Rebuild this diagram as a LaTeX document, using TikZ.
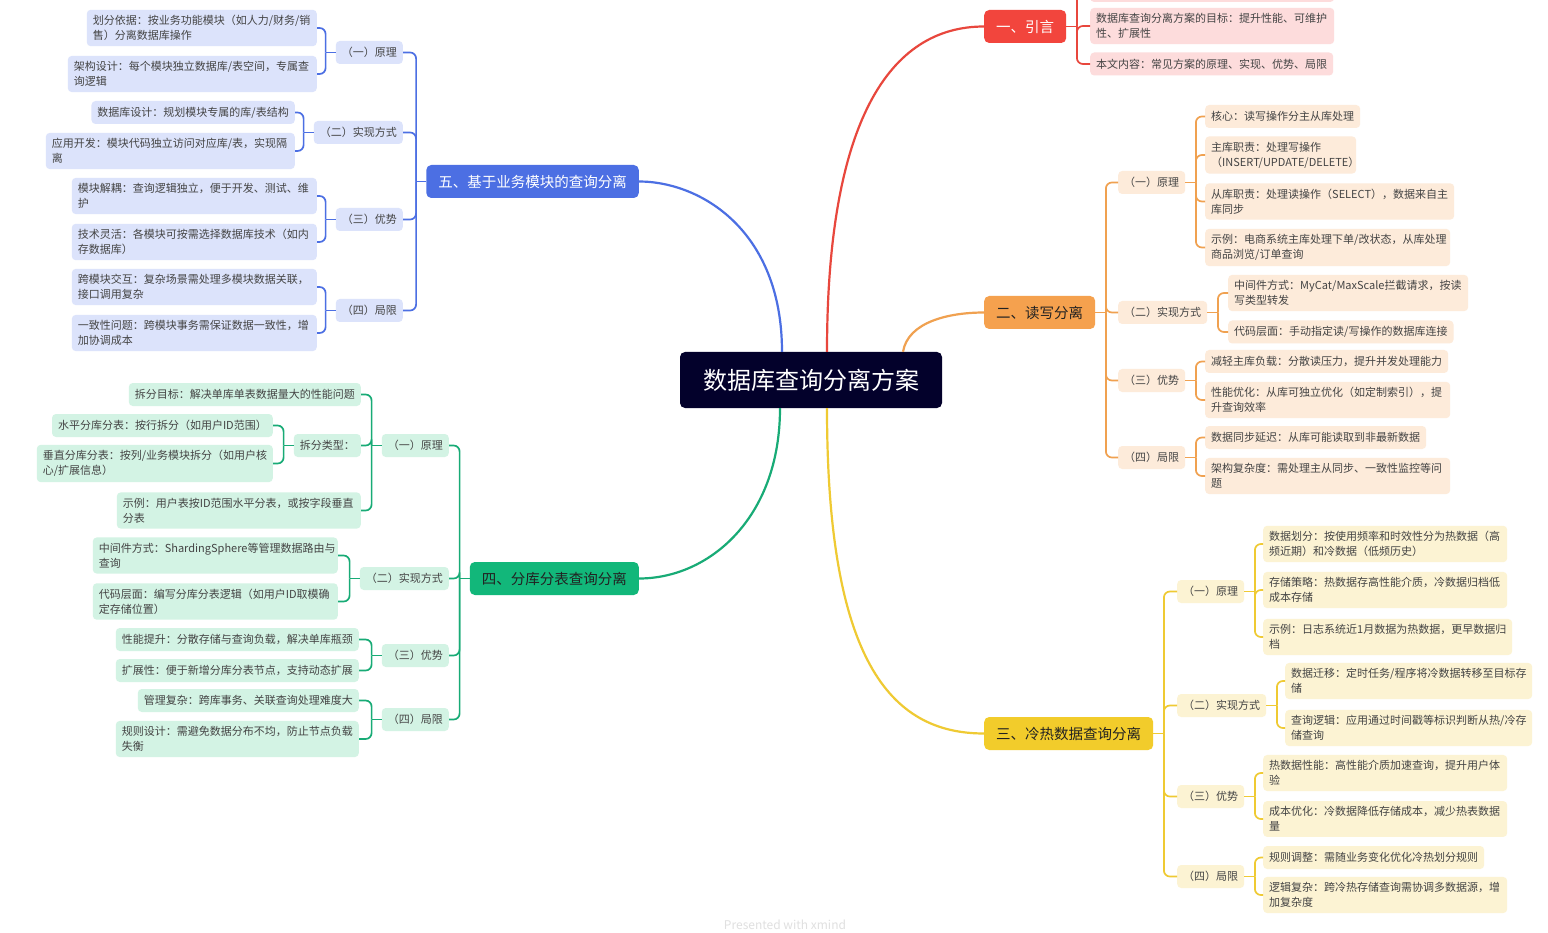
\documentclass[tikz,border=0pt]{standalone}
\usepackage{fontspec}
\setmainfont{Noto Sans CJK SC}
\newcommand\lfnt{\fontsize{11}{15}\selectfont}
\newcommand\mfnt{\fontsize{14.5}{18}\selectfont}
\newcommand\cfnt{\fontsize{24}{28}\selectfont}
\definecolor{cfill}{HTML}{03012B}
\definecolor{redmain}{HTML}{F2453D}
\definecolor{redfill}{HTML}{FDDCDC}
\definecolor{redline}{HTML}{E8473D}
\definecolor{orgmain}{HTML}{F5A14E}
\definecolor{orgfill}{HTML}{FDEBDA}
\definecolor{orgline}{HTML}{F0A150}
\definecolor{yelmain}{HTML}{F2CC2B}
\definecolor{yelfill}{HTML}{FCF3D3}
\definecolor{yelline}{HTML}{EFCA33}
\definecolor{grnmain}{HTML}{12B77A}
\definecolor{grnfill}{HTML}{D3F3E4}
\definecolor{grnline}{HTML}{18AB76}
\definecolor{blumain}{HTML}{4C6FE3}
\definecolor{blufill}{HTML}{DCE3FB}
\definecolor{bluline}{HTML}{4C6FE3}
\definecolor{leaftext}{HTML}{444444}
\definecolor{maintext}{HTML}{222222}
\tikzset{
  leaf/.style={rounded corners=4pt, inner xsep=6pt, inner ysep=5.5pt, minimum height=23pt,
    align=left, font=\lfnt, text=leaftext},
  mainbox/.style={rounded corners=5pt, inner xsep=12pt, minimum height=33pt, font=\mfnt},
  conn/.style={line width=1.7pt, rounded corners=6pt},
  bigconn/.style={line width=2.2pt},
  rl/.style={leaf, fill=redfill},
  ol/.style={leaf, fill=orgfill},
  yl/.style={leaf, fill=yelfill},
  gl/.style={leaf, fill=grnfill},
  bl/.style={leaf, fill=blufill},
}
\newcommand\rbr[3]{%
  \draw[conn,#2] (#1.east) -- ++(10.5,0) coordinate (#1j);
  \foreach \cc in {#3} {\draw[conn,#2] (#1j) |- (\cc.west);}
}
\newcommand\lbr[3]{%
  \draw[conn,#2] (#1.west) -- ++(-10,0) coordinate (#1j);
  \foreach \cc in {#3} {\draw[conn,#2] (#1j) |- (\cc.east);}
}
\begin{document}
\begin{tikzpicture}[x=1pt,y=-1pt]
\useasboundingbox (0,0) rectangle (1548,933);
\fill[white] (0,0) rectangle (1548,933);

% central
\node[rounded corners=5pt, fill=cfill, text=white, font=\cfnt, minimum width=262pt, minimum height=56pt] (c) at (811,380) {数据库查询分离方案};

% ---------- red ----------
\node[mainbox, fill=redmain, text=white, anchor=west] (r) at (984,26.5) {一、引言};
\node[rl, anchor=west, text width=232pt, minimum height=32pt] (r0) at (1090,-14) {};
\node[rl, anchor=west, text width=232pt] (r1) at (1090,26) {数据库查询分离方案的目标：提升性能、可维护\\性、扩展性};
\node[rl, anchor=west] (r2) at (1090,64) {本文内容：常见方案的原理、实现、优势、局限};
\rbr{r}{redline}{r0,r1,r2}

% ---------- orange ----------
\node[mainbox, fill=orgmain, text=maintext, anchor=west] (o) at (984,312.5) {二、读写分离};
\node[ol, anchor=west] (o1) at (1118,182.5) {（一）原理};
\node[ol, anchor=west] (o2) at (1118,312.5) {（二）实现方式};
\node[ol, anchor=west] (o3) at (1118,380.5) {（三）优势};
\node[ol, anchor=west] (o4) at (1118,457.5) {（四）局限};
\rbr{o}{orgline}{o1,o2,o3,o4}
\node[ol, anchor=west] (o11) at (1205,116.5) {核心：读写操作分主从库处理};
\node[ol, anchor=west, text width=139pt] (o12) at (1205,155) {主库职责：处理写操作\\（INSERT/UPDATE/DELETE）};
\node[ol, anchor=west, text width=237pt] (o13) at (1205,201.5) {从库职责：处理读操作（SELECT），数据来自主\\库同步};
\node[ol, anchor=west, text width=233pt] (o14) at (1205,247.5) {示例：电商系统主库处理下单/改状态，从库处理\\商品浏览/订单查询};
\rbr{o1}{orgline}{o11,o12,o13,o14}
\node[ol, anchor=west, text width=228pt] (o21) at (1228,293) {中间件方式：MyCat/MaxScale拦截请求，按读\\写类型转发};
\node[ol, anchor=west] (o22) at (1228,332) {代码层面：手动指定读/写操作的数据库连接};
\rbr{o2}{orgline}{o21,o22}
\node[ol, anchor=west] (o31) at (1205,361.5) {减轻主库负载：分散读压力，提升并发处理能力};
\node[ol, anchor=west, text width=233pt] (o32) at (1205,400) {性能优化：从库可独立优化（如定制索引），提\\升查询效率};
\rbr{o3}{orgline}{o31,o32}
\node[ol, anchor=west] (o41) at (1205,437.5) {数据同步延迟：从库可能读取到非最新数据};
\node[ol, anchor=west, text width=233pt] (o42) at (1205,476) {架构复杂度：需处理主从同步、一致性监控等问\\题};
\rbr{o4}{orgline}{o41,o42}

% ---------- yellow ----------
\node[mainbox, fill=yelmain, text=maintext, anchor=west] (y) at (984,733.5) {三、冷热数据查询分离};
\node[yl, anchor=west] (y1) at (1177,591.5) {（一）原理};
\node[yl, anchor=west] (y2) at (1177,705.5) {（二）实现方式};
\node[yl, anchor=west] (y3) at (1177,796.5) {（三）优势};
\node[yl, anchor=west] (y4) at (1177,876.5) {（四）局限};
\rbr{y}{yelline}{y1,y2,y3,y4}
\node[yl, anchor=west, text width=232pt] (y11) at (1263,544) {数据划分：按使用频率和时效性分为热数据（高\\频近期）和冷数据（低频历史）};
\node[yl, anchor=west, text width=232pt] (y12) at (1263,590) {存储策略：热数据存高性能介质，冷数据归档低\\成本存储};
\node[yl, anchor=west, text width=237pt] (y13) at (1263,637) {示例：日志系统近1月数据为热数据，更早数据归\\档};
\rbr{y1}{yelline}{y11,y12,y13}
\node[yl, anchor=west, text width=235pt] (y21) at (1285,681) {数据迁移：定时任务/程序将冷数据转移至目标存\\储};
\node[yl, anchor=west, text width=235pt] (y22) at (1285,728) {查询逻辑：应用通过时间戳等标识判断从热/冷存\\储查询};
\rbr{y2}{yelline}{y21,y22}
\node[yl, anchor=west, text width=232pt] (y31) at (1263,773) {热数据性能：高性能介质加速查询，提升用户体\\验};
\node[yl, anchor=west, text width=232pt] (y32) at (1263,819) {成本优化：冷数据降低存储成本，减少热表数据\\量};
\rbr{y3}{yelline}{y31,y32}
\node[yl, anchor=west] (y41) at (1263,857.5) {规则调整：需随业务变化优化冷热划分规则};
\node[yl, anchor=west, text width=232pt] (y42) at (1263,895) {逻辑复杂：跨冷热存储查询需协调多数据源，增\\加复杂度};
\rbr{y4}{yelline}{y41,y42}

% ---------- green ----------
\node[mainbox, fill=grnmain, text=maintext, anchor=east] (g) at (639,578.5) {四、分库分表查询分离};
\node[gl, anchor=east] (g1) at (449,445.5) {（一）原理};
\node[gl, anchor=east] (g2) at (449,578.5) {（二）实现方式};
\node[gl, anchor=east] (g3) at (449,655.5) {（三）优势};
\node[gl, anchor=east] (g4) at (449,719.5) {（四）局限};
\lbr{g}{grnline}{g1,g2,g3,g4}
\node[gl, anchor=east] (g11) at (361,394.5) {拆分目标：解决单库单表数据量大的性能问题};
\node[gl, anchor=east] (gt) at (361,445.5) {拆分类型：};
\node[gl, anchor=east, text width=232pt] (g13) at (361,510.5) {示例：用户表按ID范围水平分表，或按字段垂直\\分表};
\lbr{g1}{grnline}{g11,gt,g13}
\node[gl, anchor=east] (ga) at (273,425.5) {水平分库分表：按行拆分（如用户ID范围）};
\node[gl, anchor=east, text width=224pt] (gb) at (273,463.5) {垂直分库分表：按列/业务模块拆分（如用户核\\心/扩展信息）};
\lbr{gt}{grnline}{ga,gb}
\node[gl, anchor=east, text width=233pt] (g21) at (338,555.5) {中间件方式：ShardingSphere等管理数据路由与\\查询};
\node[gl, anchor=east, text width=233pt] (g22) at (338,601.5) {代码层面：编写分库分表逻辑（如用户ID取模确\\定存储位置）};
\lbr{g2}{grnline}{g21,g22}
\node[gl, anchor=east] (g31) at (359,639.5) {性能提升：分散存储与查询负载，解决单库瓶颈};
\node[gl, anchor=east] (g32) at (359,670.5) {扩展性：便于新增分库分表节点，支持动态扩展};
\lbr{g3}{grnline}{g31,g32}
\node[gl, anchor=east] (g41) at (359,700.5) {管理复杂：跨库事务、关联查询处理难度大};
\node[gl, anchor=east, text width=231pt] (g42) at (359,739) {规则设计：需避免数据分布不均，防止节点负载\\失衡};
\lbr{g4}{grnline}{g41,g42}

% ---------- blue ----------
\node[mainbox, fill=blumain, text=white, anchor=east] (b) at (639,181.5) {五、基于业务模块的查询分离};
\node[bl, anchor=east] (b1) at (403,52.5) {（一）原理};
\node[bl, anchor=east] (b2) at (403,132.5) {（二）实现方式};
\node[bl, anchor=east] (b3) at (403,219.5) {（三）优势};
\node[bl, anchor=east] (b4) at (403,310.5) {（四）局限};
\lbr{b}{bluline}{b1,b2,b3,b4}
\node[bl, anchor=east, text width=218pt] (b11) at (317,28) {划分依据：按业务功能模块（如人力/财务/销\\售）分离数据库操作};
\node[bl, anchor=east, text width=237pt] (b12) at (317,74) {架构设计：每个模块独立数据库/表空间，专属查\\询逻辑};
\lbr{b1}{bluline}{b11,b12}
\node[bl, anchor=east] (b21) at (295,112.5) {数据库设计：规划模块专属的库/表结构};
\node[bl, anchor=east, text width=237pt] (b22) at (295,151) {应用开发：模块代码独立访问对应库/表，实现隔\\离};
\lbr{b2}{bluline}{b21,b22}
\node[bl, anchor=east, text width=233pt] (b31) at (317,196) {模块解耦：查询逻辑独立，便于开发、测试、维\\护};
\node[bl, anchor=east, text width=233pt] (b32) at (317,242) {技术灵活：各模块可按需选择数据库技术（如内\\存数据库）};
\lbr{b3}{bluline}{b31,b32}
\node[bl, anchor=east, text width=233pt] (b41) at (317,287) {跨模块交互：复杂场景需处理多模块数据关联，\\接口调用复杂};
\node[bl, anchor=east, text width=233pt] (b42) at (317,333) {一致性问题：跨模块事务需保证数据一致性，增\\加协调成本};
\lbr{b4}{bluline}{b41,b42}

% ---------- main curves ----------
\draw[bigconn, redline] ([xshift=16pt]c.north) .. controls +(0,-230) and +(-95,0) .. (r.west);
\draw[bigconn, orgline] ([xshift=92pt]c.north) .. controls +(5,-30) and +(-35,0) .. (o.west);
\draw[bigconn, bluline] ([xshift=-29pt]c.north) .. controls +(0,-122) and +(61,0) .. (b.east);
\draw[bigconn, grnline] ([xshift=-31pt]c.south) .. controls +(0,110) and +(70,0) .. (g.east);
\draw[bigconn, yelline] ([xshift=16pt]c.south) .. controls +(0,250) and +(-95,0) .. (y.west);

% watermark
\node[anchor=base, text=black!12, font=\fontsize{12}{14}\selectfont] (wm) at (785,929.5) {Presented with xmind};
\end{tikzpicture}
\end{document}
